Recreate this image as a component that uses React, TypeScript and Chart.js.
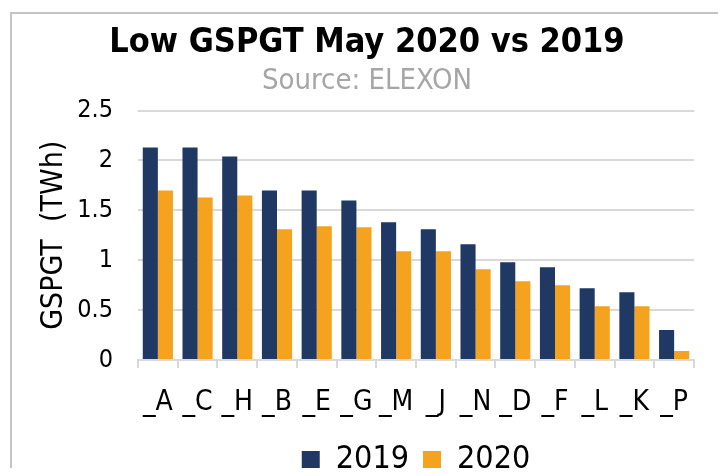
import React, { useEffect, useRef } from "react";
import { Chart, registerables } from "chart.js";

Chart.register(...registerables);

const categories = ["_A", "_C", "_H", "_B", "_E", "_G", "_M", "_J", "_N", "_D", "_F", "_L", "_K", "_P"];
const values2019 = [2.13, 2.13, 2.04, 1.7, 1.7, 1.6, 1.38, 1.31, 1.16, 0.98, 0.93, 0.72, 0.68, 0.3];
const values2020 = [1.7, 1.63, 1.65, 1.31, 1.34, 1.33, 1.09, 1.09, 0.91, 0.79, 0.75, 0.54, 0.54, 0.09];
const yTicks = [0, 0.5, 1, 1.5, 2, 2.5];
const seriesNames = ["2019", "2020"];

const FONT = "'DejaVu Sans Condensed', 'DejaVu Sans', sans-serif";

export default function App() {
  const canvasRef = useRef<HTMLCanvasElement | null>(null);

  useEffect(() => {
    const canvas = canvasRef.current;
    if (!canvas) return;
    const chart = new Chart(canvas, {
      type: "bar",
      data: {
        labels: categories,
        datasets: [
          {
            label: seriesNames[0],
            data: values2019,
            backgroundColor: "#203864",
            borderWidth: 0,
            categoryPercentage: 0.76,
            barPercentage: 1,
          },
          {
            label: seriesNames[1],
            data: values2020,
            backgroundColor: "#f5a21f",
            borderWidth: 0,
            categoryPercentage: 0.76,
            barPercentage: 1,
          },
        ],
      },
      options: {
        animation: false,
        responsive: false,
        devicePixelRatio: 1,
        layout: { padding: { left: 32, right: 32, top: 0, bottom: 0 } },
        scales: {
          x: {
            afterFit: (s: any) => {
              s.height = 70;
            },
            grid: {
              offset: true,
              drawOnChartArea: false,
              drawTicks: true,
              tickLength: 8,
              color: "#d9d9d9",
              lineWidth: 2,
            },
            border: { color: "#d9d9d9", width: 2 },
            ticks: {
              font: { size: 28, family: FONT },
              color: "#000",
              padding: 18,
              maxRotation: 0,
              autoSkip: false,
            },
          },
          y: {
            min: 0,
            max: 2.5,
            afterBuildTicks: (s: any) => {
              s.ticks = yTicks.map((v) => ({ value: v }));
            },
            afterFit: (s: any) => {
              s.width = 98;
            },
            ticks: {
              font: { size: 25, family: FONT },
              color: "#000",
              padding: 25,
              callback: (v: any) => String(v),
            },
            grid: { color: "#d9d9d9", lineWidth: 2, drawTicks: false },
            border: { display: false },
            title: {
              display: true,
              text: "GSPGT  (TWh)",
              font: { size: 30, family: FONT },
              color: "#000",
              padding: { top: -4, bottom: 0 },
            },
          },
        },
        plugins: {
          title: {
            display: true,
            text: "Low GSPGT May 2020 vs 2019",
            font: { size: 34, weight: "bold", family: FONT },
            color: "#000",
            padding: { top: 15, bottom: 0 },
          },
          subtitle: {
            display: true,
            text: "Source: ELEXON",
            font: { size: 29, family: FONT },
            color: "#a6a6a6",
            padding: { top: 0, bottom: 12 },
          },
          legend: {
            position: "bottom",
            fullSize: false,
            labels: {
              boxWidth: 18,
              boxHeight: 18,
              font: { size: 32, family: FONT },
              color: "#000",
              padding: 14,
            },
          },
          tooltip: { enabled: false },
        },
      },
    });
    return () => chart.destroy();
  }, []);

  return (
    <div style={{ position: "relative", width: 718, height: 468, marginBottom: -8, overflow: "hidden" }}>
      <div
        style={{
          position: "absolute",
          left: 2,
          top: 4,
          width: 713,
          height: 470,
          border: "2px solid #c4c4c4",
          borderBottom: "none",
          boxSizing: "border-box",
        }}
      />
      <canvas
        ref={canvasRef}
        width={718}
        height={478}
        style={{ position: "absolute", left: 0, top: 0, width: 718, height: 478 }}
      />
    </div>
  );
}
